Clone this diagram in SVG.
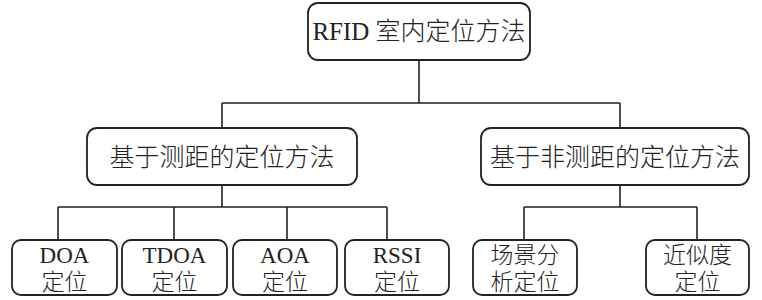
<svg xmlns="http://www.w3.org/2000/svg" width="762" height="300" viewBox="0 0 762 300">
<style>
.box{fill:#fff;stroke:#222;stroke-width:1.8}
.ln{fill:none;stroke:#222;stroke-width:1.6}
text{font-family:"Liberation Serif","Noto Sans CJK SC",serif;fill:#222;text-anchor:middle;font-weight:300}
.t1{font-size:25px}
.t2{font-size:23px}
</style>
<rect width="762" height="300" fill="#fff"/>
<g id="connectors">
<path class="ln" d="M419,60 V103 M222,103 H620 M222,103 V128 M620,103 V128"/>
<path class="ln" d="M222,185 V207 M58,207 H387 M58,207 V240 M174,207 V240 M287,207 V240 M387,207 V240"/>
<path class="ln" d="M620,185 V207 M524,207 H697 M524,207 V240 M697,207 V240"/>
</g>
<g id="root"><rect class="box" x="308" y="3" width="222" height="57" rx="10"/><text class="t1" x="419" y="40">RFID 室内定位方法</text></g>
<g id="range"><rect class="box" x="87" y="128" width="270" height="57" rx="10"/><text class="t1" x="222" y="166">基于测距的定位方法</text></g>
<g id="nonrange"><rect class="box" x="481" y="128" width="268" height="57" rx="10"/><text class="t1" x="615" y="166">基于非测距的定位方法</text></g>
<g id="doa"><rect class="box" x="12" y="240" width="105" height="55" rx="9"/><text class="t2" x="64.5" y="263">DOA</text><text class="t2" x="64.5" y="290">定位</text></g>
<g id="tdoa"><rect class="box" x="122" y="240" width="105" height="55" rx="9"/><text class="t2" x="174.5" y="263">TDOA</text><text class="t2" x="174.5" y="290">定位</text></g>
<g id="aoa"><rect class="box" x="233" y="240" width="104" height="55" rx="9"/><text class="t2" x="285" y="263">AOA</text><text class="t2" x="285" y="290">定位</text></g>
<g id="rssi"><rect class="box" x="345" y="240" width="104" height="55" rx="9"/><text class="t2" x="397" y="263">RSSI</text><text class="t2" x="397" y="290">定位</text></g>
<g id="scene"><rect class="box" x="473" y="240" width="104" height="55" rx="9"/><text class="t2" x="525" y="263">场景分</text><text class="t2" x="525" y="290">析定位</text></g>
<g id="prox"><rect class="box" x="646" y="240" width="103" height="55" rx="9"/><text class="t2" x="697.5" y="263">近似度</text><text class="t2" x="697.5" y="290">定位</text></g>
</svg>
